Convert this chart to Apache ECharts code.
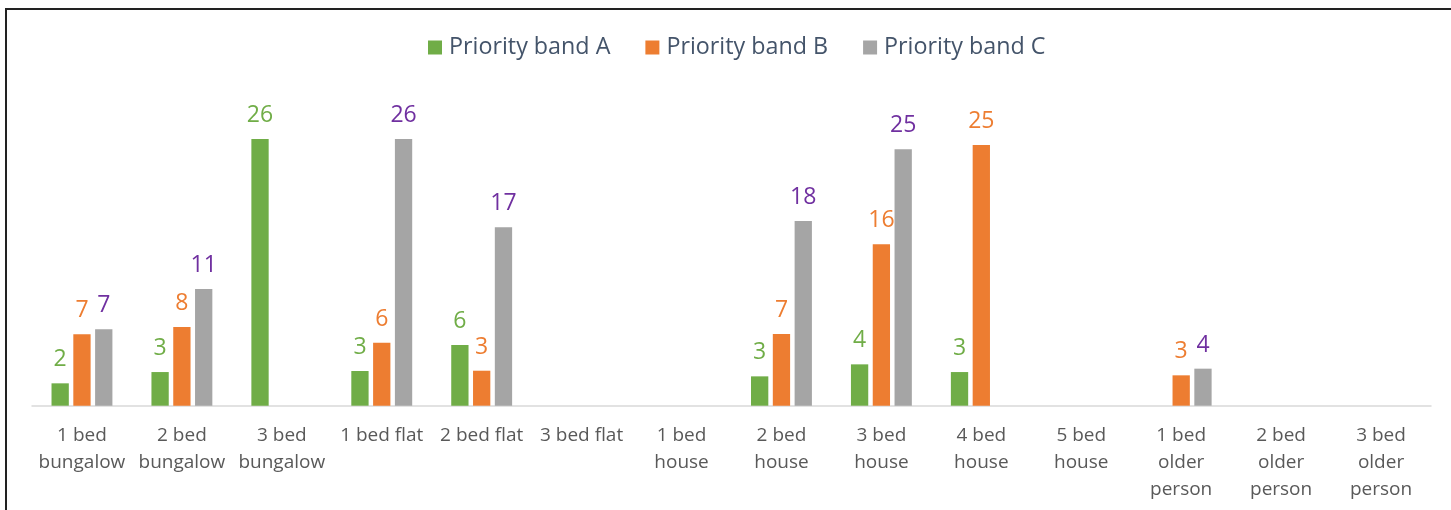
<!DOCTYPE html>
<html>
<head>
<meta charset="utf-8">
<script src="https://cdn.jsdelivr.net/npm/echarts@6/dist/echarts.min.js"></script>
<style>
html,body{margin:0;padding:0;background:#fff;}
#wrap{position:relative;width:1451px;height:510px;overflow:hidden;background:#fff;}
#frame{position:absolute;left:5px;top:8px;width:1460px;height:520px;border:2px solid #222;box-sizing:border-box;}
#chart{position:absolute;left:0;top:0;width:1451px;height:510px;}
</style>
</head>
<body>
<div id="wrap"><div id="frame"></div><div id="chart"></div></div>
<script>
const categories = ['1 bed\nbungalow','2 bed\nbungalow','3 bed\nbungalow','1 bed flat','2 bed flat','3 bed flat','1 bed\nhouse','2 bed\nhouse','3 bed\nhouse','4 bed\nhouse','5 bed\nhouse','1 bed\nolder\nperson','2 bed\nolder\nperson','3 bed\nolder\nperson'];
const seriesNames = ['Priority band A','Priority band B','Priority band C'];
const bandA = [2.18, 3.28, 26.0, 3.38, 5.91, null, null, 2.86, 4.03, 3.28, null, null, null, null];
const bandB = [6.96, 7.67, null, 6.14, 3.41, null, null, 6.99, 15.73, 25.4, null, 2.96, null, null];
const bandC = [7.45, 11.37, null, 26.0, 17.4, null, null, 18.0, 24.99, null, null, 3.61, null, null];
const barColors = ['#70AD47','#ED7D31','#A5A5A5'];
const labelColors = ['#70AD47','#ED7D31','#7030A0'];

const chart = echarts.init(document.getElementById('chart'));
const font = 'Open Sans';
const mk = (name, data, i) => ({
  name, type: 'bar', data,
  barWidth: 17.3, barGap: '26%',
  itemStyle: {color: barColors[i]},
  label: {
    show: true, position: 'top', distance: 12,
    color: labelColors[i], fontSize: 23, fontFamily: font,
    formatter: p => (p.value == null ? '' : String(Math.round(p.value)))
  },
  emphasis: {disabled: true}
});
chart.setOption({
  animation: false,
  textStyle: {fontFamily: font},
  legend: {
    top: 31, left: 423, itemWidth: 14, itemHeight: 14, itemGap: 35,
    icon: 'rect',
    textStyle: {fontSize: 23.3, color: '#44546A', fontFamily: font, padding: [0, 0, 0, 2]},
    data: seriesNames
  },
  grid: {left: 32, right: 20, top: 97.9, bottom: 104.3, containLabel: false},
  xAxis: {
    type: 'category', data: categories,
    axisLine: {lineStyle: {color: '#D9D9D9', width: 1.5}},
    axisTick: {show: false},
    axisLabel: {interval: 0, margin: 16, fontSize: 19, lineHeight: 27, color: '#595959', fontFamily: font}
  },
  yAxis: {type: 'value', min: 0, max: 30, show: false, splitLine: {show: false}},
  series: [mk(seriesNames[0], bandA, 0), mk(seriesNames[1], bandB, 1), mk(seriesNames[2], bandC, 2)]
});
</script>
</body>
</html>
